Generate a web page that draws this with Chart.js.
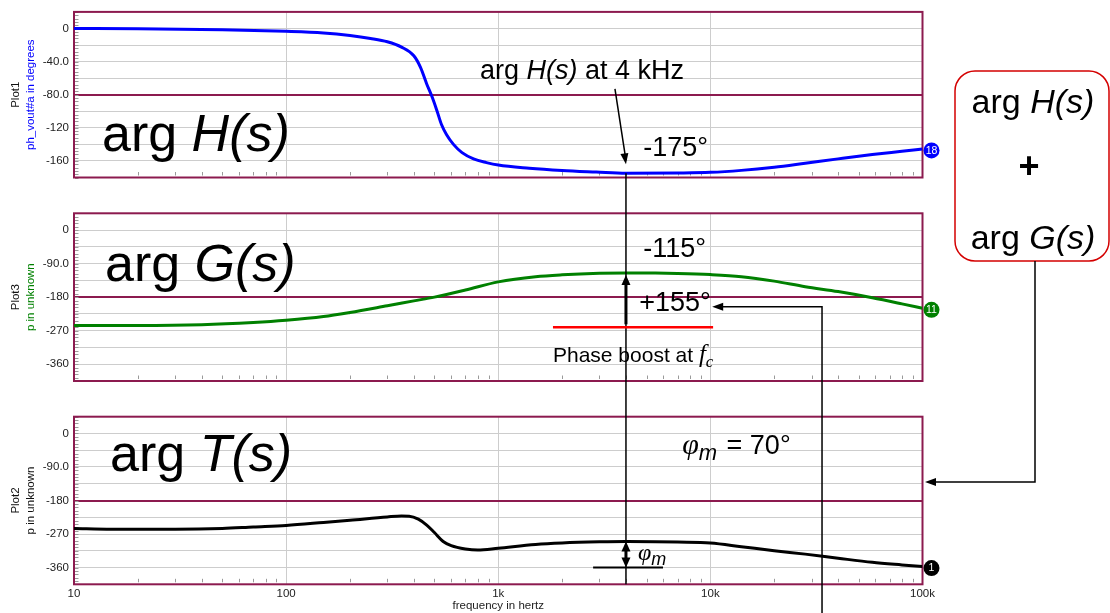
<!DOCTYPE html>
<html>
<head>
<meta charset="utf-8">
<script src="https://cdn.jsdelivr.net/npm/chart.js@4/dist/chart.umd.min.js"></script>
<style>
  html, body { margin: 0; padding: 0; background: #fff; }
  #wrap { position: relative; width: 1110px; height: 613px; }
  #wrap canvas { position: absolute; left: 0; top: 0; }
</style>
</head>
<body>
<div id="wrap">
  <canvas id="plotH" width="1110" height="613"></canvas>
  <canvas id="plotG" width="1110" height="613"></canvas>
  <canvas id="plotT" width="1110" height="613"></canvas>
</div>
<script>
// ---- frequency axis (Hz) ----
const xTickValues = [10, 100, 1000, 10000, 100000];
const xTickLabels = ['10', '100', '1k', '10k', '100k'];

// ---- arg H(s): power stage phase, degrees ----
const freqH = [10, 20, 50, 100, 150, 200, 250, 300, 350, 400, 430, 460, 490, 515, 540, 570, 615, 675, 765, 880,
               1000, 1400, 2000, 2900, 4000, 7000, 10000, 14000, 20000, 28000, 40000, 58000, 80000, 100000];
const argH  = [0, -0.5, -1.5, -3.5, -5.5, -8.5, -12, -16, -22.5, -33, -47, -67, -84, -100, -116, -128, -140, -150, -157.5, -162,
               -165, -168.7, -171.4, -173.4, -175, -174.6, -173.8, -171.4, -167.5, -162.7, -157.5, -152.3, -148.3, -145.5];

// ---- arg G(s): compensator phase, degrees ----
const freqG = [10, 20, 40, 70, 100, 150, 200, 300, 400, 500, 700, 1000, 1500, 2000, 3000, 4000, 5500, 7000,
               10000, 14000, 20000, 28000, 40000, 58000, 80000, 100000];
const argG  = [-256, -256, -254, -248, -242, -232, -221, -203, -190, -180, -161, -139, -125, -120, -116, -115, -115.5, -116.5,
               -119.5, -125, -137, -152, -165, -181.5, -198, -210];

// ---- arg T(s): loop gain phase, degrees ----
const freqT = [10, 15, 30, 50, 70, 100, 150, 200, 300, 350, 380, 420, 460, 500, 550, 600, 700, 800, 1000, 1500,
               2000, 3000, 4000, 5500, 7000, 10000, 14000, 20000, 28000, 40000, 58000, 80000, 100000];
const argT  = [-255, -257, -257, -255, -251, -247, -239, -233, -224, -221.5, -222, -230, -246, -266, -290, -301, -310, -313, -308, -298,
               -294, -291, -290, -290.5, -291.5, -294, -304, -315, -324, -335, -346, -353, -357.5];

// ---- vertical tick sets ----
const hTickValues = [0, -20, -40, -60, -80, -100, -120, -140, -160];
const hTickLabels = ['0', '', '-40.0', '', '-80.0', '', '-120', '', '-160'];
const pTickValues = [0, -45, -90, -135, -180, -225, -270, -315, -360];
const pTickLabels = ['0', '', '-90.0', '', '-180', '', '-270', '', '-360'];

// crossover frequency and annotated quantities
const fCross = 4000;
const boostRef = -261;      // low-frequency reference of the compensator phase
const marginRef = -360;

const SANS = '"Liberation Sans", Arial, sans-serif';
const SERIF = '"Liberation Serif", "Times New Roman", serif';
const MAROON = '#8c1a4f';
const GRID = '#cdcdcd';

const charts = [];

function valueAt(freqs, vals, f) {
  return vals[freqs.indexOf(f)];
}

function rich(ctx, x, y, parts, align) {
  let w = 0;
  for (const p of parts) { ctx.font = p[1]; w += ctx.measureText(p[0]).width + (p[3] || 0); }
  let cx = align === 'center' ? x - w / 2 : x;
  for (const p of parts) {
    ctx.font = p[1];
    ctx.fillText(p[0], cx, y + (p[2] || 0));
    cx += ctx.measureText(p[0]).width + (p[3] || 0);
  }
}

function head(ctx, tx, ty, fx, fy, len, wid) {
  const a = Math.atan2(ty - fy, tx - fx);
  const c = Math.cos(a), s = Math.sin(a);
  ctx.beginPath();
  ctx.moveTo(tx, ty);
  ctx.lineTo(tx - len * c + wid / 2 * s, ty - len * s - wid / 2 * c);
  ctx.lineTo(tx - len * c - wid / 2 * s, ty - len * s + wid / 2 * c);
  ctx.closePath();
  ctx.fill();
}

function line(ctx, pts, w, color) {
  ctx.save();
  ctx.strokeStyle = color || '#000';
  ctx.lineWidth = w;
  ctx.beginPath();
  ctx.moveTo(pts[0][0], pts[0][1]);
  for (let i = 1; i < pts.length; i++) ctx.lineTo(pts[i][0], pts[i][1]);
  ctx.stroke();
  ctx.restore();
}

// frame, minor ticks, axis captions and end marker for one plot
function framePlugin(cfg) {
  return {
    id: 'frame',
    beforeDatasetsDraw(chart) {
      const { ctx, chartArea: a, scales } = chart;
      ctx.save();
      ctx.strokeStyle = '#9a9a9a';
      ctx.lineWidth = 1;
      ctx.beginPath();
      for (let d = 10; d < 100000; d *= 10) {
        for (let k = 2; k <= 9; k++) {
          const x = Math.round(scales.x.getPixelForValue(d * k)) + 0.5;
          ctx.moveTo(x, a.bottom - 5.5);
          ctx.lineTo(x, a.bottom - 2);
        }
      }
      const minor = cfg.step / 5;
      for (let v = cfg.max; v >= cfg.min; v -= minor) {
        const y = Math.round(scales.y.getPixelForValue(v)) + 0.5;
        ctx.moveTo(a.left + 1, y);
        ctx.lineTo(a.left + 4.5, y);
      }
      ctx.stroke();
      ctx.strokeStyle = MAROON;
      ctx.lineWidth = 2;
      ctx.strokeRect(a.left, a.top, a.right - a.left, a.bottom - a.top);
      // axis captions
      const cy = (a.top + a.bottom) / 2;
      ctx.translate(0, cy);
      ctx.rotate(-Math.PI / 2);
      ctx.textAlign = 'center';
      ctx.textBaseline = 'middle';
      ctx.font = '11.5px ' + SANS;
      ctx.fillStyle = '#111';
      ctx.fillText(cfg.name, 0, 15.5);
      ctx.fillStyle = cfg.captionColor;
      ctx.fillText(cfg.caption, 0, 30.5);
      ctx.restore();
    },
    afterDatasetsDraw(chart) {
      const { ctx } = chart;
      const pts = chart.getDatasetMeta(0).data;
      const p = pts[pts.length - 1];
      ctx.save();
      ctx.fillStyle = cfg.color;
      ctx.beginPath();
      ctx.arc(p.x + 9, p.y + 1.5, 8, 0, Math.PI * 2);
      ctx.fill();
      ctx.fillStyle = '#fff';
      ctx.font = '10.5px ' + SANS;
      ctx.textAlign = 'center';
      ctx.textBaseline = 'middle';
      ctx.fillText(cfg.marker, p.x + 9, p.y + 2);
      ctx.restore();
    }
  };
}

function makePlot(id, cfg, extra) {
  return new Chart(document.getElementById(id), {
    type: 'line',
    data: {
      datasets: [{
        data: cfg.freq.map((f, i) => ({ x: f, y: cfg.vals[i] })),
        borderColor: cfg.color,
        borderWidth: 3,
        pointRadius: 0,
        cubicInterpolationMode: 'monotone',
        fill: false
      }]
    },
    options: {
      responsive: false,
      animation: false,
      events: [],
      layout: { padding: { top: cfg.top, bottom: cfg.padBottom, left: 0, right: 187.5 } },
      plugins: { legend: { display: false }, tooltip: { enabled: false } },
      scales: {
        x: {
          type: 'logarithmic',
          min: 10, max: 100000,
          afterBuildTicks: s => { s.ticks = xTickValues.map(v => ({ value: v })); },
          afterFit: s => { s.height = cfg.xHeight; },
          ticks: {
            display: cfg.showX,
            autoSkip: false, maxRotation: 0, padding: 3,
            color: '#222',
            font: { family: SANS, size: 11.5 },
            callback: (v, i) => xTickLabels[i]
          },
          grid: { color: GRID, lineWidth: 1, drawTicks: false },
          border: { display: false },
          title: {
            display: cfg.showX,
            text: 'frequency in hertz',
            color: '#222',
            font: { family: SANS, size: 11.5 },
            padding: { top: 0, bottom: 0 }
          }
        },
        y: {
          min: cfg.min, max: cfg.max,
          afterBuildTicks: s => { s.ticks = cfg.tickValues.map(v => ({ value: v })); },
          afterFit: s => { s.width = 74; },
          ticks: {
            autoSkip: false, padding: 5,
            color: '#222',
            font: { family: SANS, size: 11.5 },
            callback: (v, i) => cfg.tickLabels[i]
          },
          grid: {
            drawTicks: false,
            color: c => (c.tick && c.tick.value === cfg.marked) ? MAROON : GRID,
            lineWidth: c => (c.tick && c.tick.value === cfg.marked) ? 2 : 1
          },
          border: { display: false }
        }
      }
    },
    plugins: [framePlugin(cfg)].concat(extra || [])
  });
}

// annotations spanning the three plots
const notes = {
  id: 'notes',
  afterDraw(chart) {
    const c1 = charts[0], c2 = charts[1], c3 = chart;
    const ctx = chart.ctx;
    const X = f => c1.scales.x.getPixelForValue(f);
    const Y1 = v => c1.scales.y.getPixelForValue(v);
    const Y2 = v => c2.scales.y.getPixelForValue(v);
    const Y3 = v => c3.scales.y.getPixelForValue(v);
    const xc = X(fCross);
    const hC = valueAt(freqH, argH, fCross);
    const gC = valueAt(freqG, argG, fCross);
    const tC = valueAt(freqT, argT, fCross);

    ctx.save();
    ctx.fillStyle = '#000';
    ctx.textBaseline = 'alphabetic';
    ctx.textAlign = 'left';

    // large plot names
    rich(ctx, X(13.55), Y1(-147.6), [['arg ', '52px ' + SANS], ['H(s)', 'italic 52px ' + SANS]]);
    rich(ctx, X(14.0), Y2(-136.7), [['arg ', '52px ' + SANS], ['G(s)', 'italic 52px ' + SANS]]);
    rich(ctx, X(14.8), Y3(-100.7), [['arg ', '52px ' + SANS], ['T(s)', 'italic 52px ' + SANS]]);

    // value call-outs
    rich(ctx, X(820), Y1(-60.5), [['arg ', '27px ' + SANS], ['H(s)', 'italic 27px ' + SANS], [' at 4 kHz', '27px ' + SANS]]);
    rich(ctx, X(4820), Y1(-153.5), [['-175°', '27px ' + SANS]]);
    rich(ctx, X(4820), Y2(-72.3), [['-115°', '27px ' + SANS]]);
    rich(ctx, X(4617), Y2(-218.5), [['+155°', '27px ' + SANS]]);
    rich(ctx, X(1811), Y2(-354), [['Phase boost at ', '21px ' + SANS], ['f', 'italic 25px ' + SERIF], ['c', 'italic 17px ' + SERIF, 5]]);
    rich(ctx, X(7362), Y3(-55.3), [['φ', 'italic 30px ' + SERIF], ['m', 'italic 22px ' + SANS, 6, 2], [' = 70°', '27px ' + SANS]]);
    rich(ctx, X(4560), Y3(-339.5), [['φ', 'italic 24px ' + SERIF], ['m', 'italic 18px ' + SANS, 5]]);

    // arrow to arg H(s) at the crossover
    const tipY = Y1(hC) - 9;
    const sx = xc - 11, sy = Y1(-73);
    line(ctx, [[sx, sy], [xc, tipY - 4]], 1.5);
    head(ctx, xc, tipY, sx, sy, 11, 8);

    // vertical marker through the crossover frequency
    line(ctx, [[xc, Y1(hC)], [xc, c3.chartArea.bottom]], 1.5);

    // phase boost arrow and its reference
    line(ctx, [[X(1811), Y2(boostRef)], [X(10300), Y2(boostRef)]], 2.5, '#ff0000');
    line(ctx, [[xc, Y2(boostRef) - 3], [xc, Y2(gC) + 10]], 3);
    head(ctx, xc, Y2(gC) + 2, xc, Y2(boostRef), 10, 9);

    // phase margin arrow
    line(ctx, [[X(2800), Y3(marginRef)], [X(5980), Y3(marginRef)]], 2);
    line(ctx, [[xc, Y3(tC) + 8], [xc, Y3(marginRef) - 8]], 3);
    head(ctx, xc, Y3(tC), xc, Y3(marginRef), 10, 9);
    head(ctx, xc, Y3(marginRef), xc, Y3(tC), 10, 9);

    // pointer to the +155° figure
    const bx = X(33600), by = Y2(-206);
    line(ctx, [[bx, 613], [bx, by], [X(10800), by]], 1.5);
    head(ctx, X(10200), by, bx, by, 11, 8);

    // sum box and its pointer into arg T(s)
    const L = c1.chartArea.right + 32.5, R = 1109, T = 71, B = 261, r = 20;
    ctx.strokeStyle = '#d40000';
    ctx.lineWidth = 1.5;
    ctx.beginPath();
    ctx.moveTo(L + r, T);
    ctx.arcTo(R, T, R, B, r);
    ctx.arcTo(R, B, L, B, r);
    ctx.arcTo(L, B, L, T, r);
    ctx.arcTo(L, T, R, T, r);
    ctx.closePath();
    ctx.stroke();
    const mx = (L + R) / 2;
    rich(ctx, mx + 1, 113, [['arg ', '34px ' + SANS], ['H(s)', 'italic 34px ' + SANS]], 'center');
    rich(ctx, mx - 3, 178, [['+', 'bold 36px ' + SANS]], 'center');
    rich(ctx, mx + 1, 249, [['arg ', '34px ' + SANS], ['G(s)', 'italic 34px ' + SANS]], 'center');
    const py = Y3(-130);
    line(ctx, [[1035, B], [1035, py], [c3.chartArea.right + 12, py]], 1.5);
    head(ctx, c3.chartArea.right + 2.5, py, 1035, py, 11, 8);

    ctx.restore();
  }
};

charts.push(makePlot('plotH', {
  freq: freqH, vals: argH, color: '#0000ff', marker: '18',
  min: -180, max: 20, step: 20, marked: -80,
  tickValues: hTickValues, tickLabels: hTickLabels,
  top: 9.5, padBottom: 435.5, xHeight: 0, showX: false,
  name: 'Plot1', caption: 'ph_vout#a in degrees', captionColor: '#0000ff'
}));
charts.push(makePlot('plotG', {
  freq: freqG, vals: argG, color: '#008000', marker: '11',
  min: -405, max: 45, step: 45, marked: -180,
  tickValues: pTickValues, tickLabels: pTickLabels,
  top: 213.3, padBottom: 232, xHeight: 0, showX: false,
  name: 'Plot3', caption: 'p in unknown', captionColor: '#008000'
}));
charts.push(makePlot('plotT', {
  freq: freqT, vals: argT, color: '#000000', marker: '1',
  min: -405, max: 45, step: 45, marked: -180,
  tickValues: pTickValues, tickLabels: pTickLabels,
  top: 416.7, padBottom: 0, xHeight: 28.7, showX: true,
  name: 'Plot2', caption: 'p in unknown', captionColor: '#111'
}, [notes]));
</script>
</body>
</html>
